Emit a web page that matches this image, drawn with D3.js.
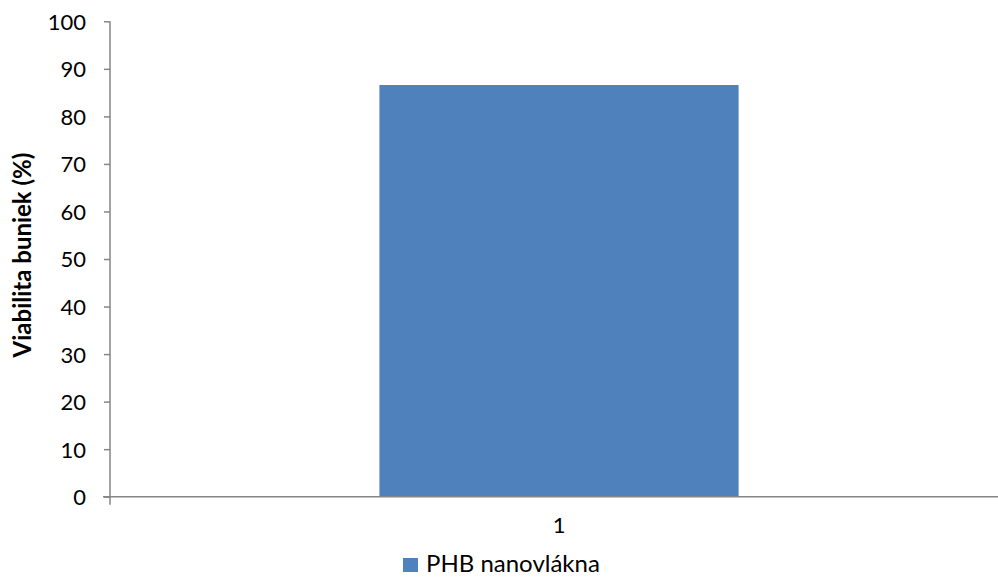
<!DOCTYPE html>
<html>
<head>
<meta charset="utf-8">
<script src="https://cdn.jsdelivr.net/npm/d3@7"></script>
<style>
  html, body { margin: 0; padding: 0; background: #fff; }
  svg { display: block; }
  text { font-family: Lato, "Open Sans", sans-serif; fill: #000; }
</style>
</head>
<body>
<svg id="chart" width="998" height="579"></svg>
<script>
// Chart data
const categories = ["1"];
const seriesName = "PHB nanovlákna";
const viability = [86.6];
const yTicks = [0, 10, 20, 30, 40, 50, 60, 70, 80, 90, 100];
const yTitle = "Viabilita buniek (%)";

const svg = d3.select("#chart");
const plot = { left: 110, right: 1008, top: 21.3, bottom: 496.7 };
const axisColor = "#868686";
const barColor = "#4F81BD";

const x = d3.scaleBand().domain(categories).range([plot.left, plot.right]).padding(0);
const y = d3.scaleLinear().domain([0, 100]).range([plot.bottom, plot.top]);
const barFrac = 0.4;

// Bars
svg.append("g").selectAll("rect")
  .data(categories.map((c, i) => ({ c, v: viability[i] })))
  .join("rect")
  .attr("x", d => x(d.c) + x.bandwidth() * (1 - barFrac) / 2)
  .attr("width", x.bandwidth() * barFrac)
  .attr("y", d => y(d.v))
  .attr("height", d => y(0) - y(d.v))
  .attr("fill", barColor);

// Y axis
const yAxis = svg.append("g")
  .attr("transform", `translate(${plot.left},0)`)
  .call(d3.axisLeft(y).tickValues(yTicks).tickSize(6).tickPadding(18).tickFormat(d3.format("d")));
yAxis.select(".domain").attr("stroke", axisColor).attr("stroke-width", 1.5)
  .attr("d", `M0,${plot.top}V${plot.bottom}`);
yAxis.selectAll(".tick line").attr("stroke", axisColor).attr("stroke-width", 1.5);
yAxis.selectAll(".tick text")
  .style("font-family", "Lato, 'Open Sans', sans-serif")
  .style("font-size", "22px")
  .attr("fill", "#000")
  .attr("dy", "0.36em");

// X axis
const xAxis = svg.append("g")
  .attr("transform", `translate(0,${plot.bottom})`)
  .call(d3.axisBottom(x).tickSize(0).tickPadding(34));
xAxis.select(".domain").attr("stroke", axisColor).attr("stroke-width", 1.5)
  .attr("d", `M${plot.left - 7},0H${plot.right}`);
xAxis.selectAll(".tick text")
  .style("font-family", "Lato, 'Open Sans', sans-serif")
  .style("font-size", "22px")
  .attr("fill", "#000")
  .attr("dy", "0.1em");
// Category boundary tick
xAxis.append("g").selectAll("line")
  .data([plot.left])
  .join("line")
  .attr("x1", d => d).attr("x2", d => d)
  .attr("y1", 0).attr("y2", 8)
  .attr("stroke", axisColor).attr("stroke-width", 1.5);

// Y axis title
svg.append("text")
  .attr("transform", `translate(31,${(plot.top + plot.bottom) / 2 - 4}) rotate(-90)`)
  .attr("text-anchor", "middle")
  .style("font-size", "24px")
  .style("font-weight", "bold")
  .text(yTitle);

// Legend
const legend = svg.append("g").attr("transform", "translate(403,558)");
legend.append("rect").attr("width", 15).attr("height", 14).attr("fill", barColor);
legend.append("text").attr("x", 23).attr("y", 14)
  .style("font-size", "24px")
  .text(seriesName);
</script>
</body>
</html>
